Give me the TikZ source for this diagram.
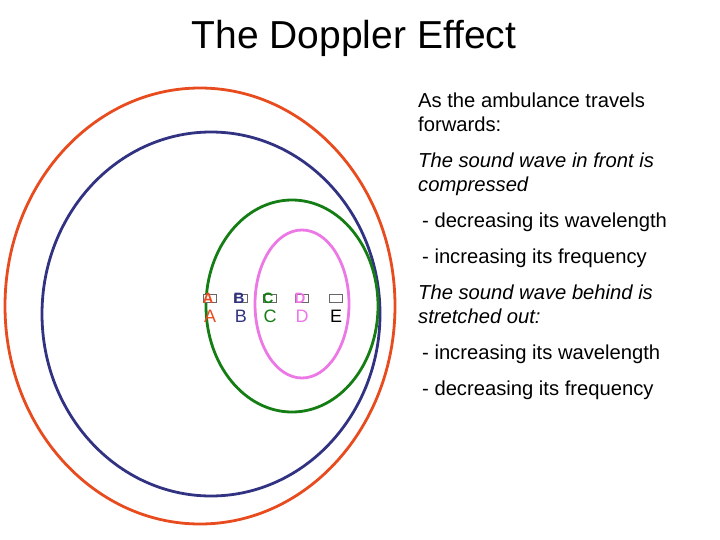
\documentclass[tikz,border=0pt]{standalone}
\usepackage{fontspec}
\setmainfont{Liberation Sans}
\begin{document}
\begin{tikzpicture}[x=1pt,y=-1pt,
  wave/.style={line width=2.8pt},
  lbl/.style={font=\fontsize{18}{20}\selectfont, inner sep=0pt},
  txt/.style={anchor=north west, align=left, font=\fontsize{20.2}{24}\selectfont, inner sep=0pt},
  amb/.style={draw=black!60, fill=white, minimum width=13pt, minimum height=8pt, inner sep=0pt, line width=0.6pt}]
\useasboundingbox (0,0) rectangle (720,540);
\definecolor{cor}{RGB}{232,76,30}
\definecolor{cbl}{RGB}{50,50,130}
\definecolor{cgr}{RGB}{20,125,20}
\definecolor{cpk}{RGB}{236,120,230}
\node[font=\fontsize{39}{44}\selectfont] (title) at (354,38) {The Doppler Effect};
\draw[wave, cor] (200,306) ellipse [x radius=195, y radius=218];
\draw[wave, cbl] (211,314) ellipse [x radius=169, y radius=182];
\draw[wave, cgr] (292,306) ellipse [x radius=86, y radius=106];
\draw[wave, cpk] (302,304) ellipse [x radius=47, y radius=74];
\foreach \n/\x/\c in {a/210/cor,b/241/cbl,c/270/cgr,d/302/cpk,e/336/black}{
  \node[amb] (i\n) at (\x,298) {};
  \node[lbl, text=\c] (l\n) at (\x,316) {\MakeUppercase{\n}};
}
\foreach \n/\x/\c in {a/210/cor,b/241/cbl,c/270/cgr,d/302/cpk}{
  \node[lbl, text=\c, font=\fontsize{15}{16}\selectfont\bfseries] (o\n) at (\x-2,298) {\MakeUppercase{\n}};
}
\node[txt] (t1) at (418,93) {As the ambulance travels\\forwards:};
\node[txt] (t2) at (418,153) {\itshape The sound wave in front is\\\itshape compressed};
\node[txt] (t3) at (422,213) {- decreasing its wavelength};
\node[txt] (t4) at (422,249) {- increasing its frequency};
\node[txt] (t5) at (418,285) {\itshape The sound wave behind is\\\itshape stretched out:};
\node[txt] (t6) at (422,345) {- increasing its wavelength};
\node[txt] (t7) at (422,381) {- decreasing its frequency};
\end{tikzpicture}
\end{document}
